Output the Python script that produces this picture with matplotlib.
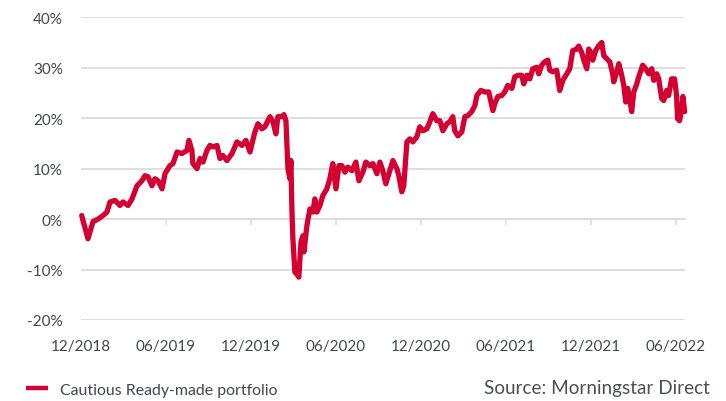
import matplotlib
matplotlib.use("Agg")
import matplotlib.pyplot as plt
import numpy as np

plt.rcParams['font.family'] = ['Lato', 'DejaVu Sans']

# months since end of 12/2018, cumulative return in %
months = [
    0.05, 0.49, 0.85, 1.20, 1.55, 1.83, 2.05, 2.40, 2.75, 2.96, 3.32, 3.60,
    3.95, 4.30, 4.52, 4.73, 5.01, 5.22, 5.43, 5.72, 5.93, 6.28, 6.49, 6.78,
    7.13, 7.48, 7.62, 7.83, 7.90, 8.19, 8.40, 8.61, 8.89, 9.10, 9.32, 9.60,
    9.81, 10.02, 10.30, 10.66, 11.01, 11.36, 11.64, 11.93, 12.28, 12.49, 12.77, 12.98,
    13.34, 13.55, 13.76, 13.90, 14.18, 14.33, 14.47, 14.61, 14.75, 14.82, 14.89, 14.96,
    15.10, 15.24, 15.38, 15.53, 15.67, 15.74, 15.95, 16.16, 16.37, 16.51, 16.65, 16.87,
    17.08, 17.36, 17.57, 17.78, 18.00, 18.21, 18.42, 18.63, 18.84, 19.13, 19.41, 19.62,
    19.90, 20.11, 20.39, 20.61, 20.89, 21.10, 21.31, 21.52, 21.74, 22.02, 22.30, 22.44,
    22.65, 22.79, 23.01, 23.22, 23.43, 23.71, 23.92, 24.14, 24.42, 24.63, 24.84, 25.12,
    25.34, 25.55, 25.83, 26.04, 26.25, 26.39, 26.61, 26.89, 27.10, 27.31, 27.59, 27.81,
    27.95, 28.23, 28.51, 28.79, 29.08, 29.22, 29.43, 29.71, 29.92, 30.13, 30.42, 30.63,
    30.84, 31.12, 31.26, 31.48, 31.69, 31.90, 32.18, 32.32, 32.53, 32.75, 32.96, 33.10,
    33.31, 33.59, 33.80, 34.02, 34.30, 34.51, 34.72, 35.00, 35.14, 35.36, 35.50, 35.71,
    35.85, 36.06, 36.13, 36.34, 36.56, 36.77, 36.91, 37.12, 37.33, 37.54, 37.61, 37.83,
    37.97, 38.18, 38.32, 38.46, 38.60, 38.74, 38.88, 39.03, 39.24, 39.38, 39.66, 39.87,
    40.08, 40.30, 40.44, 40.65, 40.79, 41.00, 41.14, 41.35, 41.49, 41.70, 41.91, 42.05,
    42.12, 42.26, 42.38, 42.50, 42.62,
]
returns = [
    0.7, -3.9, -0.5, 0.0, 0.7, 1.4, 3.4, 3.7, 2.7, 3.4, 2.7, 4.0,
    6.6, 7.6, 8.6, 8.4, 6.6, 8.0, 7.6, 6.0, 9.0, 10.6, 11.0, 13.3,
    13.0, 13.6, 15.6, 13.6, 11.0, 10.0, 12.0, 11.3, 13.6, 14.6, 14.3, 14.6,
    12.0, 12.6, 11.6, 13.0, 15.3, 14.6, 15.6, 13.3, 17.3, 18.9, 17.9, 18.3,
    20.3, 19.3, 16.9, 20.3, 20.3, 20.7, 19.5, 10.0, 8.0, 11.6, 2.0, -3.9,
    -10.5, -10.9, -11.5, -4.5, -3.3, -6.5, -1.3, 2.0, 1.4, 4.0, 1.4, 2.7,
    4.7, 6.0, 8.0, 11.0, 6.0, 10.6, 10.6, 9.3, 10.3, 9.6, 11.3, 7.6,
    9.3, 11.3, 10.6, 11.0, 9.0, 11.3, 9.6, 7.0, 9.0, 11.6, 10.0, 8.6,
    5.4, 6.6, 15.3, 15.9, 15.3, 16.3, 18.3, 17.5, 17.9, 19.3, 20.9, 19.5,
    19.5, 17.5, 18.9, 19.3, 20.3, 17.5, 16.5, 17.3, 20.3, 20.5, 21.3, 22.5,
    24.5, 25.5, 25.2, 25.2, 21.5, 22.9, 24.3, 24.5, 25.2, 26.5, 25.9, 28.2,
    28.5, 28.5, 26.8, 28.5, 27.8, 29.8, 30.1, 28.8, 30.5, 31.2, 31.5, 29.5,
    29.2, 29.5, 25.5, 27.5, 28.8, 29.8, 33.4, 33.7, 34.3, 33.0, 31.5, 29.8,
    33.7, 32.7, 31.5, 33.4, 34.4, 35.0, 32.4, 31.8, 31.2, 28.8, 27.2, 29.2,
    30.8, 28.5, 26.5, 23.2, 25.9, 23.9, 21.3, 25.2, 26.8, 28.2, 30.5, 29.8,
    28.8, 29.8, 27.5, 28.8, 27.8, 23.9, 23.5, 25.5, 24.5, 27.8, 27.8, 24.5,
    19.9, 19.5, 21.3, 24.3, 21.3,
]
tick_months = [0, 6, 12, 18, 24, 30, 36, 42]
tick_labels = ['12/2018', '06/2019', '12/2019', '06/2020', '12/2020', '06/2021', '12/2021', '06/2022']
y_ticks = [-20, -10, 0, 10, 20, 30, 40]

red = '#d50032'
grid = '#dcdcdc'
txt = '#3f4751'

fig = plt.figure(figsize=(7.26, 4.02), dpi=100)
ax = fig.add_axes([0.1116, 0.2015, 0.832, 0.753])

ax.plot(months, returns, color=red, lw=3.8, solid_joinstyle='round',
        solid_capstyle='round', label='Cautious Ready-made portfolio',
        zorder=3, clip_on=False)

ax.set_xlim(0, 42.65)
ax.set_ylim(-20, 40)
ax.set_yticks(y_ticks)
ax.set_yticklabels([f'{v}%' for v in y_ticks])
ax.grid(axis='y', color=grid, lw=1.3)
ax.set_axisbelow(True)
for s in ['top', 'right', 'left']:
    ax.spines[s].set_visible(False)
ax.spines['bottom'].set_position(('data', 0))
ax.spines['bottom'].set_color(grid)
ax.spines['bottom'].set_linewidth(1.3)
ax.tick_params(axis='y', length=0, pad=13, labelsize=11, labelcolor=txt)
ax.set_xticks(tick_months)
ax.tick_params(axis='x', length=4, width=1.2, color=grid, labelbottom=False)

sec = ax.secondary_xaxis('bottom')
sec.set_xticks(tick_months)
sec.set_xticklabels(tick_labels)
sec.tick_params(length=0, pad=13.5, labelsize=11, labelcolor=txt)
sec.spines['bottom'].set_visible(False)

leg = ax.legend(loc='center left', bbox_to_anchor=(26 / 726, 1 - 391 / 402),
                bbox_transform=fig.transFigure, frameon=False, borderpad=0,
                borderaxespad=0, handlelength=1.4, handletextpad=0.72,
                fontsize=11.4)
for t in leg.get_texts():
    t.set_color(txt)
for h in leg.get_lines():
    h.set_linewidth(3.2)
    h.set_solid_capstyle('butt')

fig.text(710 / 726, 1 - 389 / 402, 'Source: Morningstar Direct', ha='right',
         va='center', fontsize=13.6, color='#4a4f55')

fig.savefig('out.png', dpi=100)
